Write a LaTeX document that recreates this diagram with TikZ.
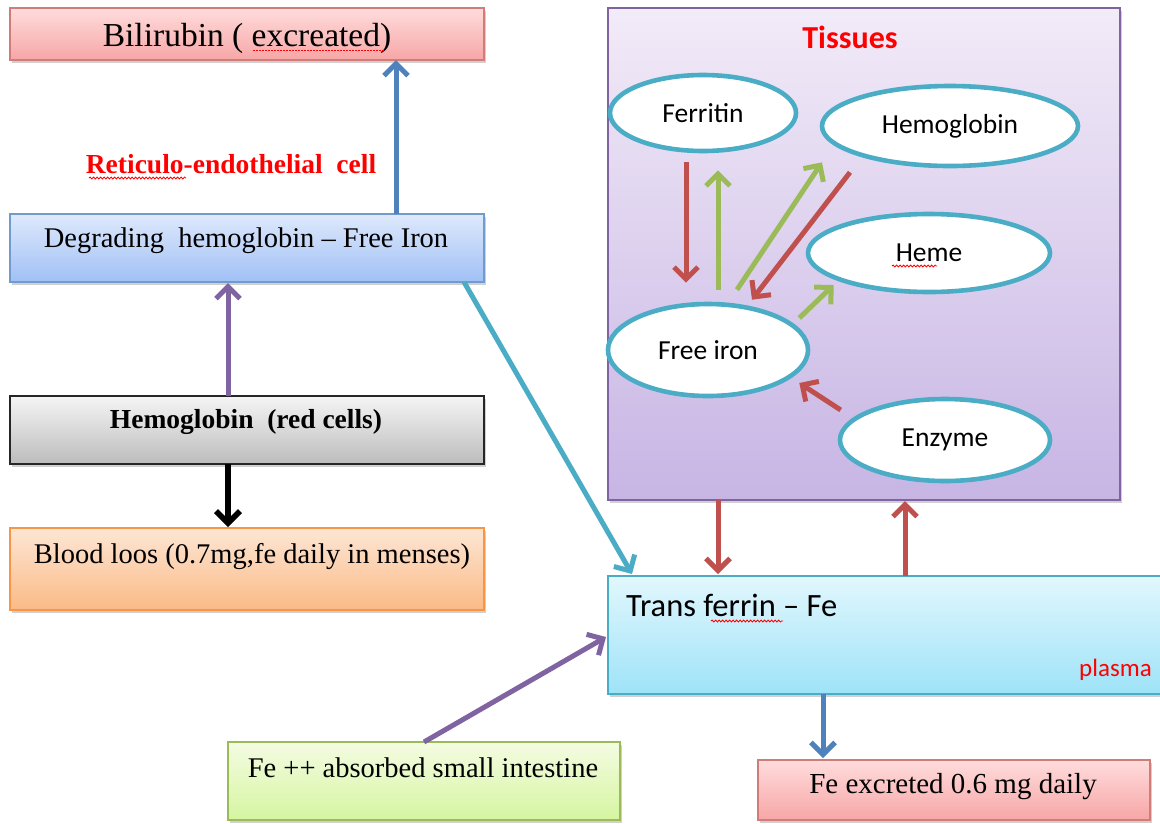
\documentclass[tikz,border=0pt]{standalone}
\usepackage{fontspec}
\setmainfont{Liberation Serif}
\newfontfamily\calibri{Carlito}
\usetikzlibrary{arrows.meta,shadows,shapes.geometric,decorations.pathmorphing}
\definecolor{wred}{HTML}{C0504D}
\definecolor{wblue}{HTML}{4F81BD}
\definecolor{wpurple}{HTML}{8064A2}
\definecolor{wgreen}{HTML}{9BBB59}
\definecolor{wteal}{HTML}{4BACC6}
\definecolor{wtxtred}{HTML}{FF0000}
\newcommand\myfs[1]{\fontsize{#1}{#1}\selectfont}
\begin{document}
\begin{tikzpicture}[x=1pt,y=-1pt,
  box/.style={draw, line width=1.6pt, inner sep=0pt, outer sep=0pt, rectangle,
    drop shadow={shadow xshift=2pt,shadow yshift=-2.5pt,opacity=0.3,fill=black!60}},
  ell/.style={ellipse, draw=wteal, line width=4.6pt, fill=white, inner sep=0pt,
    font=\calibri\myfs{27.5}},
  arr/.style={line width=5pt, -{Straight Barb[length=12pt,width=24pt]}},
  squig/.style={draw=red, line width=0.8pt, decorate,
    decoration={snake, amplitude=1pt, segment length=3.5pt}},
  lbl/.style={anchor=base, inner sep=0pt},
]
\fill[white] (0,0) rectangle (1160,823);
\useasboundingbox (0,0) rectangle (1160,823);

% left column boxes
\node[box, draw=wred!75, top color={rgb,255:red,255;green,220;blue,220}, bottom color={rgb,255:red,247;green,166;blue,166},
  minimum width=474pt, minimum height=52pt] (bili) at (247,34) {};
\node[box, draw=wblue!80, top color={rgb,255:red,222;green,233;blue,252}, bottom color={rgb,255:red,160;green,192;blue,245},
  minimum width=474pt, minimum height=68pt] (degr) at (247,248) {};
\node[box, draw=black!85, top color={rgb,255:red,245;green,245;blue,245}, bottom color={rgb,255:red,188;green,188;blue,188},
  minimum width=474pt, minimum height=68pt] (hemo) at (247,430) {};
\node[box, draw={rgb,255:red,247;green,150;blue,70}, top color={rgb,255:red,253;green,230;blue,212}, bottom color={rgb,255:red,251;green,186;blue,134},
  minimum width=474pt, minimum height=82pt] (blood) at (247,569) {};

% tissues
\node[box, draw=wpurple, line width=1.4pt, top color={rgb,255:red,242;green,235;blue,248}, bottom color={rgb,255:red,199;green,181;blue,228},
  minimum width=512pt, minimum height=492pt] (tis) at (864,254) {};

% plasma box
\node[box, draw=wteal, top color={rgb,255:red,226;green,247;blue,253}, bottom color={rgb,255:red,158;green,227;blue,248},
  minimum width=554pt, minimum height=118pt] (trans) at (885,635) {};

% bottom boxes
\node[box, draw=wgreen, top color={rgb,255:red,244;green,252;blue,226}, bottom color={rgb,255:red,213;green,245;blue,160},
  minimum width=392pt, minimum height=78pt] (fepp) at (424,781) {};
\node[box, draw=wred!75, top color={rgb,255:red,255;green,220;blue,220}, bottom color={rgb,255:red,247;green,166;blue,166},
  minimum width=392pt, minimum height=60pt] (fex) at (954,790) {};

% ellipses
\node[ell, minimum width=186pt, minimum height=76pt] (ferr) at (703,113) {Ferritin};
\node[ell, minimum width=256pt, minimum height=80pt] (hgb) at (950,126) {Hemoglobin};
\node[ell, minimum width=242pt, minimum height=78pt] (heme) at (929,253) {Heme};
\node[ell, minimum width=200pt, minimum height=92pt] (free) at (708,350) {Free iron};
\node[ell, minimum width=210pt, minimum height=82pt] (enz) at (945,440) {Enzyme};

% texts
\node[lbl, font=\myfs{33.5}] (tbili) at (247,46) {Bilirubin ( excreated)};
\node[lbl, font=\bfseries\myfs{27.5}, text=wtxtred] (tret) at (231,173) {Reticulo-endothelial\ \ cell};
\node[lbl, font=\myfs{28.5}] (tdegr) at (246,247) {Degrading\ \ hemoglobin – Free Iron};
\node[lbl, font=\bfseries\myfs{27.5}] (themo) at (246,428) {Hemoglobin\ \ (red cells)};
\node[lbl, font=\myfs{28.5}] (tblood) at (252,563) {Blood loos (0.7mg,fe daily in menses)};
\node[lbl, font=\calibri\bfseries\myfs{32}, text=wtxtred] (ttis) at (850,48) {Tissues};
\node[lbl, anchor=base west, font=\calibri\myfs{32.5}] (ttrans) at (626,616) {Trans ferrin – Fe};
\node[lbl, anchor=base east, font=\calibri\myfs{25}, text=wtxtred] (tplas) at (1152,676) {plasma};
\node[lbl, font=\myfs{28.5}] (tfepp) at (423,777) {Fe ++ absorbed small\ intestine};
\node[lbl, font=\myfs{29}] (tfex) at (953,793) {Fe excreted 0.6 mg daily};

% spelling marks
\draw[red, line width=0.8pt, dash pattern=on 1.5pt off 1.5pt] (253,50) -- (385,50);
\path[squig] (89,178) -- (186,178);
\path[squig] (892,266) -- (937,266);
\path[squig] (711,621) -- (783,621);

% main connectors
\draw[arr, wblue] ([xshift=149pt]degr.north) -- ([xshift=149pt]bili.south);
\draw[arr, wpurple] ([xshift=-19pt]hemo.north) -- ([xshift=-19pt,yshift=-1pt]degr.south);
\draw[arr, black, line width=5.5pt] ([xshift=-19pt]hemo.south) -- ([xshift=-19pt,yshift=1pt]blood.north);
\draw[arr, wteal] ([xshift=217pt]degr.south) -- ([xshift=24pt,yshift=2pt]trans.north west);
\draw[arr, wred] ([xshift=-146pt]tis.south) -- ([xshift=-167pt,yshift=2pt]trans.north);
\draw[arr, wred] ([xshift=20pt]trans.north) -- ([xshift=41pt,yshift=-1pt]tis.south);
\draw[arr, wpurple] (fepp.north) -- ([xshift=-2pt,yshift=-2pt]trans.west);
\draw[arr, wblue] ([xshift=-62pt]trans.south) -- ([xshift=-131pt,yshift=2pt]fex.north);

% tissue connectors
\draw[arr, wred] ([xshift=-17pt,yshift=-9pt]ferr.south) -- ([xshift=-22pt,yshift=19pt]free.north);
\draw[arr, wgreen] ([xshift=10pt,yshift=12pt]free.north) -- ([xshift=15pt,yshift=-17pt]ferr.south);
\draw[arr, wgreen] ([xshift=29pt,yshift=12pt]free.north) -- ([xshift=-128pt,yshift=6pt]hgb.south);
\draw[arr, wred] ([xshift=-100pt,yshift=-4pt]hgb.south) -- ([xshift=44pt,yshift=2pt]free.north);
\draw[arr, wgreen] ([xshift=-11pt,yshift=32pt]free.east) -- ([xshift=28pt,yshift=-32pt]heme.west);
\draw[arr, wred] ([xshift=3pt,yshift=30pt]enz.west) -- ([xshift=-11pt,yshift=-33pt]free.east);
\end{tikzpicture}
\end{document}
